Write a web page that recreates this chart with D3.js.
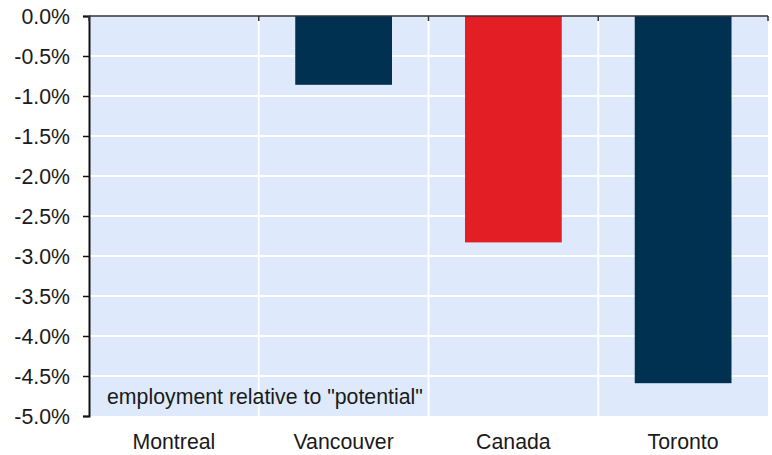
<!DOCTYPE html>
<html><head><meta charset="utf-8">
<script src="https://cdn.jsdelivr.net/npm/d3@7"></script>
<style>body{margin:0;background:#fff}svg{display:block}text{font-family:"Liberation Sans",Arial,sans-serif;fill:#1a1a1a}</style>
</head><body><svg width="772" height="455"></svg>
<script>
const categories = ["Montreal","Vancouver","Canada","Toronto"];
const values = [0, -0.86, -2.83, -4.59];
const barColors = ["#003150","#003150","#E31E24","#003150"];
const yTicks = [0,-0.5,-1,-1.5,-2,-2.5,-3,-3.5,-4,-4.5,-5];
const note = 'employment relative to "potential"';

const svg = d3.select("svg");
const L=89, R=768, T=16, B=416;
const FS = 21.3;
const x = d3.scaleBand().domain(categories).range([L,R]).padding(0);
const y = d3.scaleLinear().domain([0,-5]).range([T,B]);

svg.append("rect").attr("x",L).attr("y",T).attr("width",R-L).attr("height",B-T).attr("fill","#deeafb");
// horizontal grid
svg.append("g").selectAll("line").data(yTicks.slice(1,-1)).join("line")
  .attr("x1",L).attr("x2",R).attr("y1",d=>y(d)).attr("y2",d=>y(d))
  .attr("stroke","#fff").attr("stroke-width",2);
// vertical grid at category boundaries
svg.append("g").selectAll("line").data(categories.slice(1)).join("line")
  .attr("x1",d=>x(d)).attr("x2",d=>x(d)).attr("y1",T).attr("y2",B)
  .attr("stroke","#fff").attr("stroke-width",2);

const frac = 0.57;
svg.append("g").selectAll("rect").data(categories).join("rect")
  .attr("x",d=>x(d)+x.bandwidth()*(1-frac)/2)
  .attr("width",x.bandwidth()*frac)
  .attr("y",y(0))
  .attr("height",(d,i)=>y(values[i])-y(0))
  .attr("fill",(d,i)=>barColors[i]);

// y axis
const yAxis = d3.axisLeft(y).tickValues(yTicks).tickFormat(d=>d3.format(".1f")(d).replace("−","-")+"%").tickSize(6).tickPadding(13);
const gy = svg.append("g").attr("transform",`translate(${L},0)`).call(yAxis);
gy.select(".domain").attr("stroke","#111").attr("stroke-width",2);
gy.selectAll(".tick line").attr("stroke","#111").attr("stroke-width",1.5);
gy.selectAll("text").attr("font-size",FS).attr("font-family","Liberation Sans, Arial, sans-serif").attr("fill","#1a1a1a").attr("dy","0.36em");

// top axis line with inward ticks at category boundaries
svg.append("line").attr("x1",L).attr("x2",R).attr("y1",T).attr("y2",T).attr("stroke","#333").attr("stroke-width",1.5);
const bounds = categories.map(c=>x(c)).concat([R]);
svg.append("g").selectAll("line").data(bounds).join("line")
  .attr("x1",d=>d).attr("x2",d=>d).attr("y1",T).attr("y2",T+5).attr("stroke","#333").attr("stroke-width",1.5);

// category labels
svg.append("g").selectAll("text").data(categories).join("text")
  .attr("x",d=>x(d)+x.bandwidth()/2).attr("y",449).attr("text-anchor","middle")
  .attr("font-size",FS).text(d=>d);

svg.append("text").attr("x",107).attr("y",404).attr("font-size",FS).text(note);
</script></body></html>
